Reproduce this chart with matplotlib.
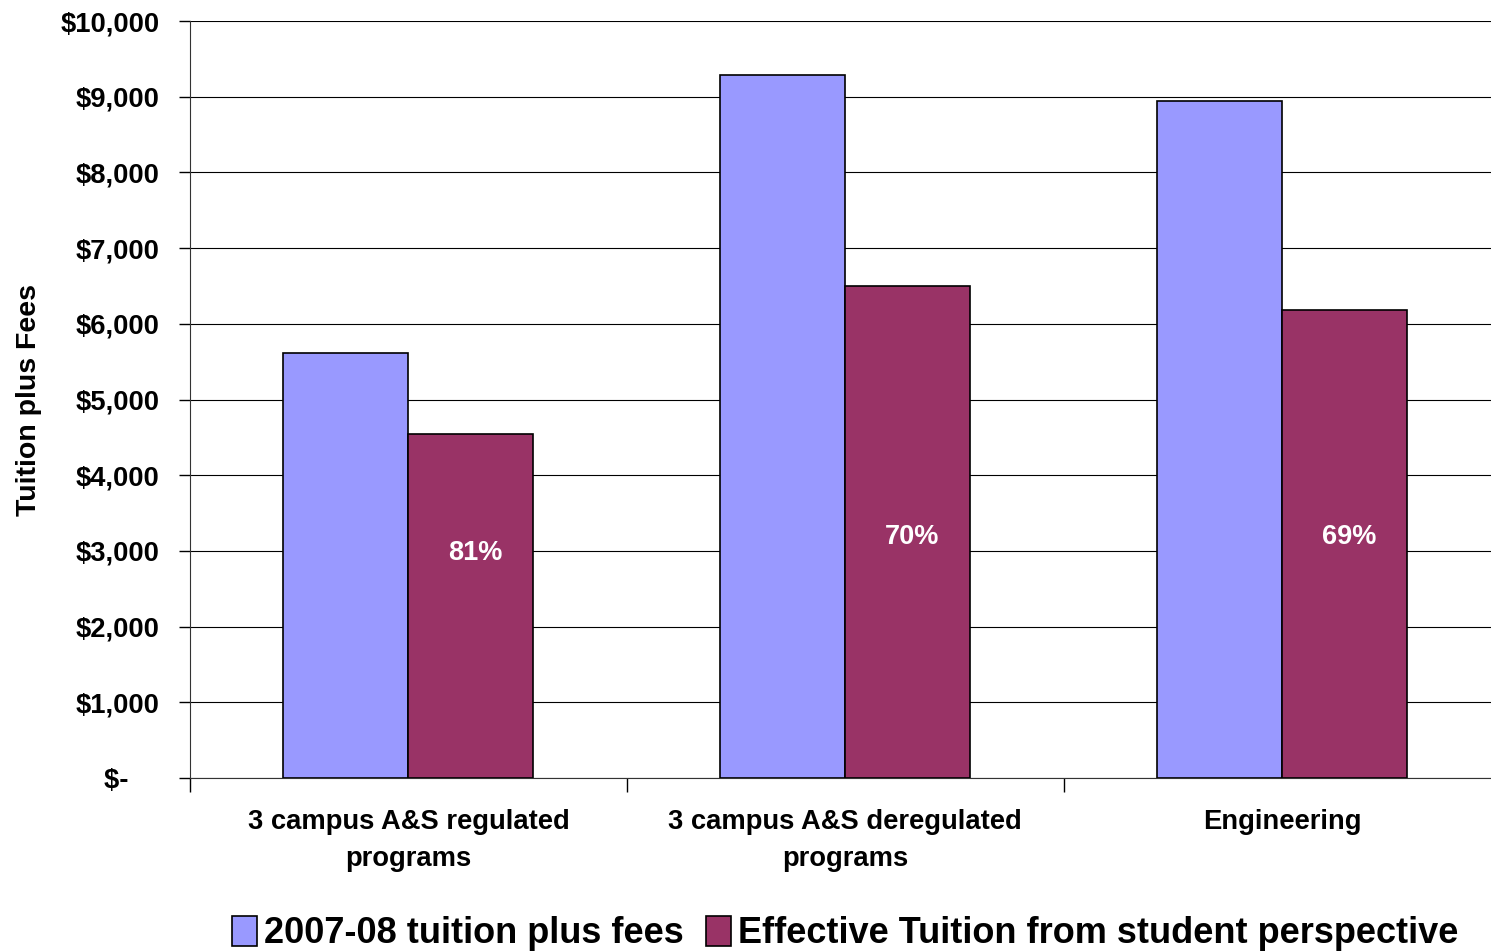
import numpy as np
import matplotlib.pyplot as plt
from matplotlib.ticker import FuncFormatter

categories = ["3 campus A&S regulated\nprograms", "3 campus A&S deregulated\nprograms", "Engineering"]
tuition = [5614, 9287, 8945]
effective = [4544, 6500, 6185]
pct_labels = ["81%", "70%", "69%"]
pct_label_y = [2970, 3190, 3190]
series_names = ["2007-08 tuition plus fees", "Effective Tuition from student perspective"]

plt.rcParams['font.family'] = ['Liberation Sans', 'DejaVu Sans']
plt.rcParams['font.weight'] = 'bold'

fig = plt.figure(figsize=(14.91, 9.51), dpi=100)
ax = fig.add_axes([0.1274, 0.1819, 0.879, 0.796])

x = np.arange(len(categories))
w = 0.286
ax.bar(x - w / 2, tuition, w, color='#9999FF', edgecolor='black', linewidth=1.2,
       label=series_names[0], zorder=3)
ax.bar(x + w / 2, effective, w, color='#993366', edgecolor='black', linewidth=1.2,
       label=series_names[1], zorder=3)

for i, lab in enumerate(pct_labels):
    ax.text(x[i] + w / 2 + 0.01, pct_label_y[i], lab, color='white',
            ha='center', va='center', fontsize=19.5, fontweight='bold', zorder=4)

ax.set_xlim(-0.5, 2.5)
ax.set_ylim(0, 10000)
ax.set_yticks(np.arange(0, 10001, 1000))


def money(v, pos):
    return "$-    " if v == 0 else "${:,.0f}".format(v)


ax.yaxis.set_major_formatter(FuncFormatter(money))
ax.yaxis.grid(True, color='black', linewidth=0.8, zorder=0)
ax.set_axisbelow(True)

ax.set_xticks([-0.5, 0.5, 1.5, 2.5])
ax.set_xticklabels([])
ax.set_xticks(x, minor=True)
ax.set_xticklabels(categories, minor=True, fontsize=19.7, fontweight='bold', linespacing=1.55)
ax.tick_params(axis='x', which='minor', length=0, pad=22)
ax.tick_params(axis='x', which='major', length=10, width=1, direction='out')
ax.tick_params(axis='y', length=8, width=1, labelsize=19.7, pad=14)

for s in ['top', 'right']:
    ax.spines[s].set_visible(False)
ax.spines['left'].set_color('#333333')
ax.spines['bottom'].set_color('#333333')

ax.set_ylabel("Tuition plus Fees", fontsize=20.5, fontweight='bold', labelpad=13)

ax.legend(loc='lower center', bbox_to_anchor=(0.5, -0.272), ncol=2, frameon=False,
          handlelength=0.7, handleheight=0.9, handletextpad=0.2,
          columnspacing=0.6, prop={'weight': 'bold', 'size': 26})

fig.savefig("out.png", dpi=100)
